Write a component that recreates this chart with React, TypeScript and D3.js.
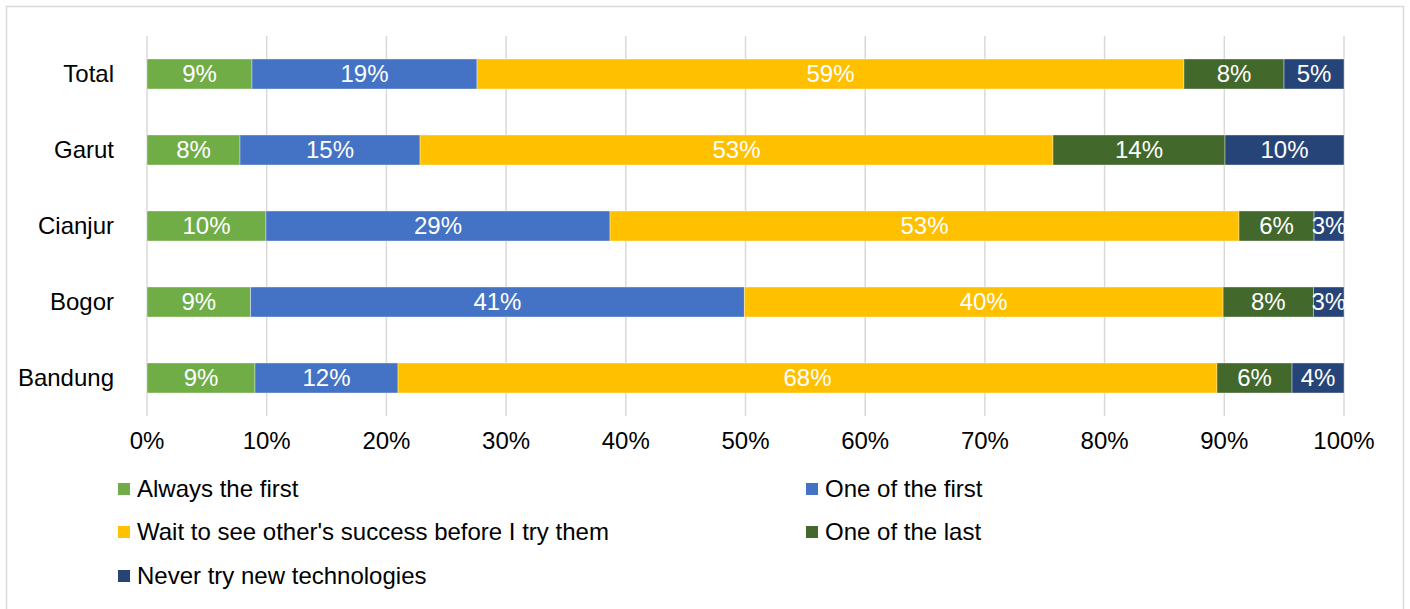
import React from "react";
import * as d3 from "d3";

const categories = ["Total", "Garut", "Cianjur", "Bogor", "Bandung"];
const seriesNames = [
  "Always the first",
  "One of the first",
  "Wait to see other's success before I try them",
  "One of the last",
  "Never try new technologies",
];
const seriesColors = ["#70AD47", "#4472C4", "#FFC000", "#43682B", "#264478"];
const alwaysFirst = [8.77, 7.77, 9.94, 8.65, 9.02];
const oneOfFirst = [18.8, 15.04, 28.74, 41.25, 11.95];
const waitToSee = [59.06, 52.88, 52.55, 40.0, 68.42];
const oneOfLast = [8.36, 14.37, 6.27, 7.55, 6.27];
const neverTry = [5.01, 9.94, 2.5, 2.55, 4.34];
const xTicks = [0, 10, 20, 30, 40, 50, 60, 70, 80, 90, 100];

const W = 1410;
const H = 609;
const FONT = "'Liberation Sans', Arial, sans-serif";
const FS = 24;

export default function App() {
  const series = [alwaysFirst, oneOfFirst, waitToSee, oneOfLast, neverTry];
  const x = d3.scaleLinear().domain([0, 100]).range([147, 1344]);
  const y = d3.scaleBand().domain(categories).range([36, 416]).paddingInner(0.605).paddingOuter(0.3025);

  const rows = categories.map((c, i) => {
    let acc = 0;
    return series.map((s, k) => {
      const v = s[i];
      const seg = { cat: c, k, x0: acc, x1: acc + v, v };
      acc += v;
      return seg;
    });
  });

  const legendItems = [
    { k: 0, mx: 118, tx: 137, y: 489 },
    { k: 1, mx: 806, tx: 825, y: 489 },
    { k: 2, mx: 118, tx: 137, y: 532 },
    { k: 3, mx: 806, tx: 825, y: 532 },
    { k: 4, mx: 118, tx: 137, y: 576 },
  ];

  return (
    <div style={{ position: "absolute", left: 0, top: 0 }}>
      <svg width={W} height={H} style={{ display: "block", fontFamily: FONT }}>
        <rect x={0} y={0} width={W} height={H} fill="#fff" />
        <rect x={6.5} y={6.5} width={1397} height={620} fill="#fff" stroke="#d9d9d9" strokeWidth={1.5} />
        {xTicks.map((t) => (
          <line key={t} x1={x(t)} x2={x(t)} y1={36} y2={416} stroke="#d9d9d9" strokeWidth={1.5} />
        ))}
        {rows.map((segs) =>
          segs.map((s) => (
            <g key={s.cat + s.k}>
              <rect
                x={x(s.x0)}
                y={y(s.cat)!}
                width={x(s.x1) - x(s.x0)}
                height={y.bandwidth()}
                fill={seriesColors[s.k]}
                stroke="#ffffff"
                strokeOpacity={0.5}
                strokeWidth={0.75}
              />
              <text
                x={(x(s.x0) + x(s.x1)) / 2}
                y={y(s.cat)! + y.bandwidth() / 2}
                dy="0.35em"
                textAnchor="middle"
                fill="#fff"
                fontSize={FS}
              >
                {d3.format(".0%")(s.v / 100)}
              </text>
            </g>
          ))
        )}
        {categories.map((c) => (
          <text key={c} x={114} y={y(c)! + y.bandwidth() / 2} dy="0.35em" textAnchor="end" fill="#000" fontSize={FS}>
            {c}
          </text>
        ))}
        {xTicks.map((t) => (
          <text key={t} x={x(t)} y={441} dy="0.35em" textAnchor="middle" fill="#000" fontSize={FS}>
            {d3.format(".0%")(t / 100)}
          </text>
        ))}
        {legendItems.map((l) => (
          <g key={l.k}>
            <rect x={l.mx} y={l.y - 6} width={12} height={12} fill={seriesColors[l.k]} />
            <text x={l.tx} y={l.y} dy="0.35em" fill="#000" fontSize={FS}>
              {seriesNames[l.k]}
            </text>
          </g>
        ))}
      </svg>
    </div>
  );
}
